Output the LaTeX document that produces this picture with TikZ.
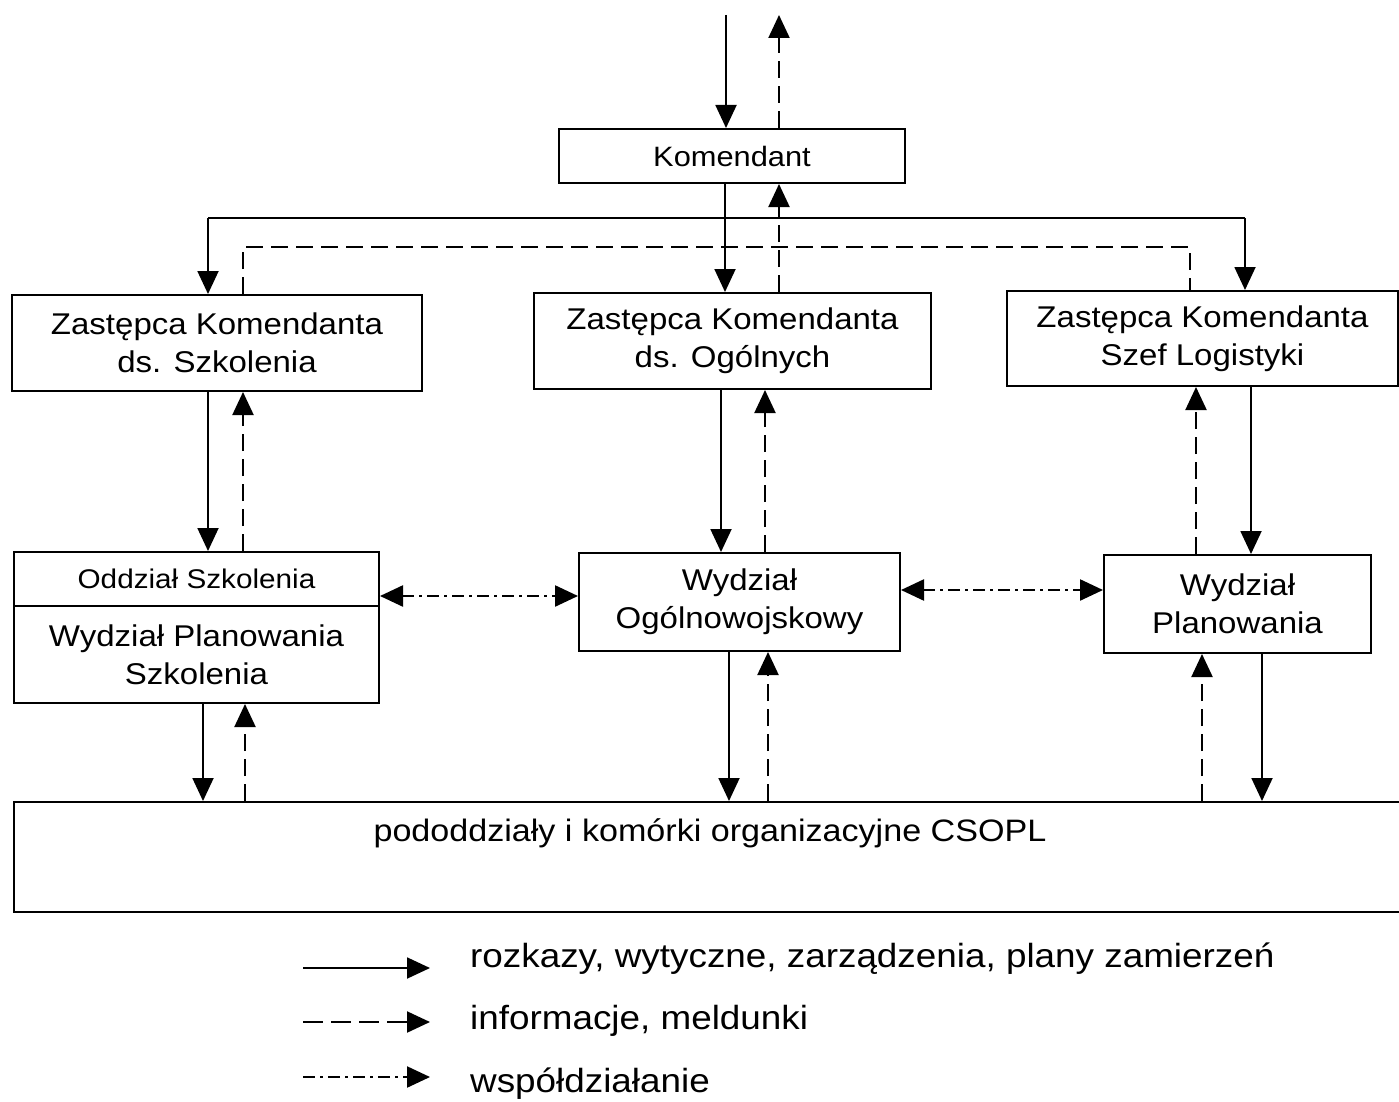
\documentclass[tikz,border=0pt]{standalone}
\usepackage{fontspec}
\setmainfont{Liberation Sans}[FakeStretch=1.1]
\usetikzlibrary{arrows.meta}
\begin{document}
\begin{tikzpicture}[x=1pt,y=-1pt,
  box/.style={draw, line width=2pt, inner sep=0pt, align=center, anchor=north west},
  big/.style={font=\fontsize{30}{38}\selectfont},
  head/.style={-{Triangle[length=23pt,width=21pt]}},
  cmd/.style={line width=1.9pt, head},
  info/.style={line width=2.1pt, dash pattern=on 17pt off 8pt, head},
  infoline/.style={line width=2.1pt, dash pattern=on 17pt off 8pt},
  coop/.style={line width=2.4pt, dash pattern=on 12pt off 5pt on 3pt off 5pt,
    {Triangle[length=23pt,width=21pt]}-{Triangle[length=23pt,width=21pt]}},
  coopkey/.style={line width=2.2pt, dash pattern=on 12pt off 5pt on 3pt off 5pt, head},
  legend/.style={anchor=west, inner sep=0pt, font=\fontsize{33.5}{40}\selectfont}]
\useasboundingbox (0,0) rectangle (1399,1102);

% organisational units
\node[box, minimum width=346pt, minimum height=54pt, font=\fontsize{28}{34}\selectfont] (kom) at (558,128) {Komendant};
\node[box, big, minimum width=410pt, minimum height=96pt] (zks) at (11,294) {Zastępca Komendanta\\ds. Szkolenia};
\node[box, big, minimum width=397pt, minimum height=96pt] (zko) at (533,292) {Zastępca Komendanta\\ds. Ogólnych};
\node[box, big, minimum width=391pt, minimum height=95pt] (zkl) at (1006,290) {Zastępca Komendanta\\Szef Logistyki};
\node[box, minimum width=365pt, minimum height=54pt, font=\fontsize{27}{34}\selectfont] (os) at (13,551) {Oddział Szkolenia};
\node[box, big, minimum width=365pt, minimum height=97pt] (wps) at (13,605) {Wydział Planowania\\Szkolenia};
\node[box, big, minimum width=321pt, minimum height=98pt] (wo) at (578,552) {Wydział\\Ogólnowojskowy};
\node[box, big, minimum width=267pt, minimum height=98pt] (wp) at (1103,554) {Wydział\\Planowania};
\node[box, minimum width=1400pt, minimum height=110pt] (base) at (13,801) {};
\node[inner sep=0pt, font=\fontsize{31}{38}\selectfont] (baselabel) at (710,833) {pododdziały i komórki organizacyjne CSOPL};

% links to the superior level
\coordinate (topin) at (726,15);
\coordinate (topout) at (779,15);
\draw[cmd] (topin) -- (topin |- kom.north);
\draw[info] (topout |- kom.north) -- (topout);

% Komendant -> deputies
\coordinate (sbusL) at (208,218);
\coordinate (sbusR) at (1245,218);
\draw[line width=1.9pt] (sbusL) -- (sbusR);
\draw[cmd] (sbusL) -- (sbusL |- zks.north);
\draw[cmd] (sbusR) -- (sbusR |- zkl.north);
\draw[cmd] (725,0 |- kom.south) -- (725,0 |- zko.north);

% deputies -> Komendant (reports)
\coordinate (dbusL) at (243,247);
\coordinate (dbusR) at (1190,247);
\draw[infoline] (dbusL |- zks.north) -- (dbusL) -- (dbusR) -- (dbusR |- zkl.north);
\draw[info] (779,0 |- zko.north) -- (779,0 |- kom.south);

% deputies <-> departments
\draw[cmd] (208,0 |- zks.south) -- (208,0 |- os.north);
\draw[info] (243,0 |- os.north) -- (243,0 |- zks.south);
\draw[cmd] (721,0 |- zko.south) -- (721,0 |- wo.north);
\draw[info] (765,0 |- wo.north) -- (765,0 |- zko.south);
\draw[info] (1196,0 |- wp.north) -- (1196,0 |- zkl.south);
\draw[cmd] (1251,0 |- zkl.south) -- (1251,0 |- wp.north);

% cooperation between departments
\draw[coop] (os.east |- 0,596) -- (wo.west |- 0,596);
\draw[coop] (wo.east |- 0,590) -- (wp.west |- 0,590);

% departments <-> subunits
\draw[cmd] (203,0 |- wps.south) -- (203,0 |- base.north);
\draw[info] (245,0 |- base.north) -- (245,0 |- wps.south);
\draw[cmd] (729,0 |- wo.south) -- (729,0 |- base.north);
\draw[info] (768,0 |- base.north) -- (768,0 |- wo.south);
\draw[info] (1202,0 |- base.north) -- (1202,0 |- wp.south);
\draw[cmd] (1262,0 |- wp.south) -- (1262,0 |- base.north);

% key
\coordinate (k1a) at (303,968); \coordinate (k1b) at (430,968);
\coordinate (k2a) at (303,1022); \coordinate (k2b) at (430,1022);
\coordinate (k3a) at (303,1077); \coordinate (k3b) at (430,1077);
\draw[cmd] (k1a) -- (k1b);
\draw[info, dash pattern=on 20pt off 8pt] (k2a) -- (k2b);
\draw[coopkey] (k3a) -- (k3b);
\node[legend] (t1) at (470,959) {rozkazy, wytyczne, zarządzenia, plany zamierzeń};
\node[legend] (t2) at (470,1021) {informacje, meldunki};
\node[legend] (t3) at (470,1084) {współdziałanie};
\end{tikzpicture}
\end{document}
